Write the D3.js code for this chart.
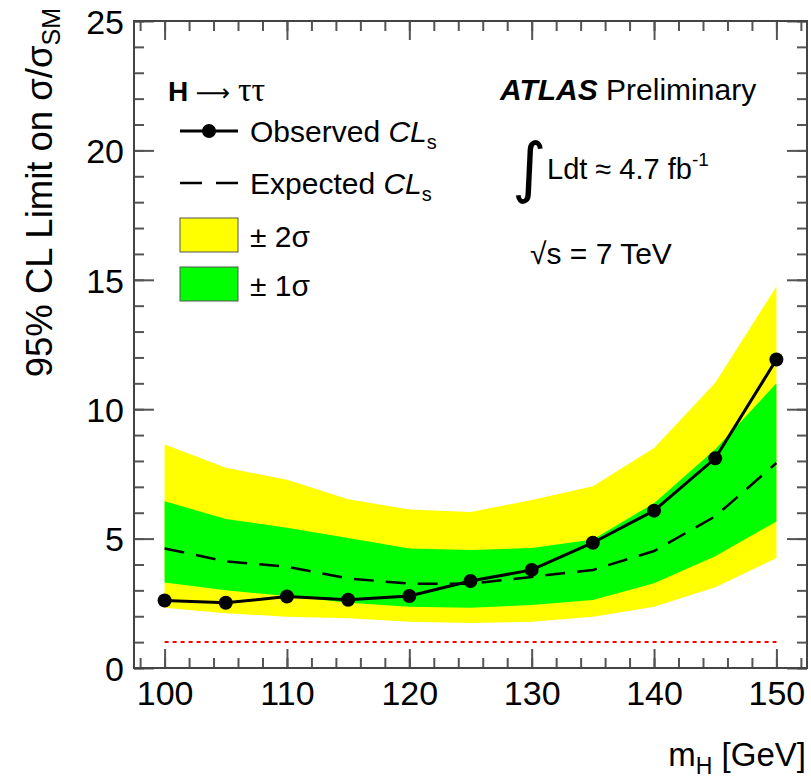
<!DOCTYPE html>
<html><head><meta charset="utf-8">
<script src="https://cdn.jsdelivr.net/npm/d3@7"></script>
<style>
html,body{margin:0;padding:0;background:#fff;}
text{font-family:"Liberation Sans",Arial,Helvetica,sans-serif;}
</style></head>
<body><svg id="c" width="811" height="779"></svg>
<script>
// ---- data ----
const masses    = [100,105,110,115,120,125,130,135,140,145,150];
const observed  = [2.61,2.52,2.76,2.64,2.78,3.36,3.79,4.84,6.08,8.10,11.92];
const expected  = [4.62,4.12,3.91,3.46,3.26,3.26,3.52,3.79,4.52,5.86,7.92];
const plus2sig  = [8.64,7.74,7.27,6.52,6.12,6.03,6.49,7.02,8.50,11.02,14.74];
const plus1sig  = [6.44,5.76,5.42,5.02,4.62,4.56,4.64,4.97,6.37,8.45,11.00];
const minus1sig = [3.30,3.00,2.78,2.52,2.37,2.33,2.43,2.63,3.27,4.32,5.66];
const minus2sig = [2.33,2.12,1.98,1.92,1.79,1.74,1.79,1.98,2.37,3.12,4.25];
const smLine    = 1;
const xTicks = [100,110,120,130,140,150];
const yTicks = [0,5,10,15,20,25];

const svg = d3.select("#c");
const L=134, R=807, T=21, B=668;
const x = d3.scaleLinear().domain([97.5,152.5]).range([L,R]);
const y = d3.scaleLinear().domain([0,25]).range([B,T]);

const rows = masses.map((m,i)=>({m, o:observed[i], e:expected[i], p2:plus2sig[i], p1:plus1sig[i], m1:minus1sig[i], m2:minus2sig[i]}));

// bands
svg.append("path").datum(rows).attr("fill","#ffff00")
  .attr("d", d3.area().x(d=>x(d.m)).y0(d=>y(d.m2)).y1(d=>y(d.p2)));
svg.append("path").datum(rows).attr("fill","#00ff00")
  .attr("d", d3.area().x(d=>x(d.m)).y0(d=>y(d.m1)).y1(d=>y(d.p1)));

// SM line
svg.append("line").attr("x1",x(masses[0])).attr("x2",x(masses[masses.length-1]))
  .attr("y1",y(smLine)).attr("y2",y(smLine))
  .attr("stroke","#ff0000").attr("stroke-width",2).attr("stroke-dasharray","4,4");

// expected
svg.append("path").datum(rows).attr("fill","none").attr("stroke","#000")
  .attr("stroke-width",2.5).attr("stroke-dasharray","20,12")
  .attr("d", d3.line().x(d=>x(d.m)).y(d=>y(d.e)));
// observed
svg.append("path").datum(rows).attr("fill","none").attr("stroke","#000")
  .attr("stroke-width",3)
  .attr("d", d3.line().x(d=>x(d.m)).y(d=>y(d.o)));
svg.selectAll("circle.obs").data(rows).enter().append("circle")
  .attr("cx",d=>x(d.m)).attr("cy",d=>y(d.o)).attr("r",7).attr("fill","#000");

// axes
const axCol="#555";
function styleAxis(g){
  g.select(".domain").remove();
  g.selectAll(".tick line").attr("stroke",axCol).attr("stroke-width",2);
  g.selectAll(".tick text").attr("fill","#000").style("font-size","34px");
}
const xMinor = d3.range(98,153,2);
const yMinor = d3.range(0,25.01,1);
// bottom
svg.append("g").attr("transform",`translate(0,${B})`)
  .call(d3.axisTop(x).tickValues(xMinor).tickSize(10).tickFormat(""))
  .call(styleAxis);
svg.append("g").attr("transform",`translate(0,${B})`)
  .call(d3.axisTop(x).tickValues(xTicks).tickSize(19).tickFormat(d3.format("d")))
  .call(styleAxis)
  .call(g=>g.selectAll(".tick text").attr("y",37).attr("dy",0));
// top
svg.append("g").attr("transform",`translate(0,${T})`)
  .call(d3.axisBottom(x).tickValues(xMinor).tickSize(10).tickFormat("")).call(styleAxis);
svg.append("g").attr("transform",`translate(0,${T})`)
  .call(d3.axisBottom(x).tickValues(xTicks).tickSize(19).tickFormat("")).call(styleAxis);
// left
svg.append("g").attr("transform",`translate(${L},0)`)
  .call(d3.axisRight(y).tickValues(yMinor).tickSize(10).tickFormat("")).call(styleAxis);
svg.append("g").attr("transform",`translate(${L},0)`)
  .call(d3.axisRight(y).tickValues(yTicks).tickSize(20).tickFormat(d3.format("d")))
  .call(styleAxis)
  .call(g=>g.selectAll(".tick text").attr("x",-10).attr("dy","0.36em").attr("text-anchor","end"));
// right
svg.append("g").attr("transform",`translate(${R},0)`)
  .call(d3.axisLeft(y).tickValues(yMinor).tickSize(10).tickFormat("")).call(styleAxis);
svg.append("g").attr("transform",`translate(${R},0)`)
  .call(d3.axisLeft(y).tickValues(yTicks).tickSize(20).tickFormat("")).call(styleAxis);

// frame
svg.append("rect").attr("x",L).attr("y",T).attr("width",R-L).attr("height",B-T)
  .attr("fill","none").attr("stroke","#444").attr("stroke-width",2);

// axis titles
const xt = svg.append("text").attr("x",806).attr("y",766).attr("text-anchor","end").style("font-size","33px");
xt.append("tspan").text("m");
xt.append("tspan").attr("dy",8).style("font-size","23px").text("H");
xt.append("tspan").attr("dy",-8).text(" [GeV]");

const yt = svg.append("text").attr("transform","translate(52,8) rotate(-90)")
  .attr("text-anchor","end").style("font-size","36.5px");
yt.append("tspan").text("95% CL Limit on σ/σ");
yt.append("tspan").attr("dy",8).style("font-size","25px").text("SM");

// legend
const lg = svg.append("g");
const h = lg.append("text").attr("x",168).attr("y",101).style("font-size","28px");
h.append("tspan").style("font-weight","bold").text("H");
h.append("tspan").style("font-family","DejaVu Sans").style("font-size","24px").text(" ⟶ ");
h.append("tspan").style("font-family","Liberation Serif").style("font-size","34px").text("ττ");

lg.append("line").attr("x1",180).attr("x2",238).attr("y1",131).attr("y2",131).attr("stroke","#000").attr("stroke-width",3);
lg.append("circle").attr("cx",209).attr("cy",131).attr("r",7).attr("fill","#000");
function clsText(yy,label){
  const t = lg.append("text").attr("x",250).attr("y",yy).style("font-size","30px");
  t.append("tspan").text(label+" ");
  t.append("tspan").style("font-style","italic").text("CL");
  t.append("tspan").attr("dy",7).style("font-size","20px").text("s");
}
clsText(142,"Observed");
lg.append("line").attr("x1",180).attr("x2",238).attr("y1",183).attr("y2",183).attr("stroke","#000").attr("stroke-width",2.5).attr("stroke-dasharray","22,14");
clsText(194,"Expected");
lg.append("rect").attr("x",180).attr("y",218).attr("width",58).attr("height",34).attr("fill","#ffff00").attr("stroke","#555").attr("stroke-width",1);
lg.append("text").attr("x",250).attr("y",247).style("font-size","30px").text("± 2σ");
lg.append("rect").attr("x",180).attr("y",267).attr("width",58).attr("height",34).attr("fill","#00ff00").attr("stroke","#555").attr("stroke-width",1);
lg.append("text").attr("x",250).attr("y",296).style("font-size","30px").text("± 1σ");

// ATLAS label
const at = svg.append("text").attr("x",500).attr("y",100).style("font-size","30px");
at.append("tspan").style("font-weight","bold").style("font-style","italic").text("ATLAS");
at.append("tspan").text(" Preliminary");

svg.append("text").attr("x",512).attr("y",190).style("font-size","66px").style("font-family","DejaVu Sans").text("∫");
const lum = svg.append("text").attr("x",547).attr("y",179).style("font-size","29px");
lum.append("tspan").text("Ldt ≈ 4.7 fb");
lum.append("tspan").attr("dy",-13).style("font-size","19px").text("-1");

const sq = svg.append("text").attr("x",530).attr("y",264).style("font-size","30px");
sq.append("tspan").text("√");
sq.append("tspan").text("s = 7 TeV");
</script></body></html>
